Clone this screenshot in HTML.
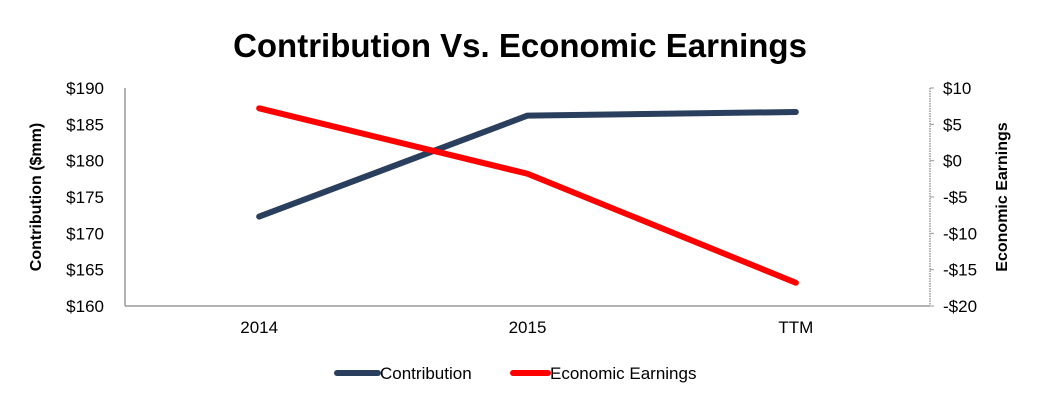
<!DOCTYPE html>
<html><head><meta charset="utf-8"><style>
body{margin:0;background:#fff;font-family:"Liberation Sans",sans-serif}
svg text{font-family:"Liberation Sans",sans-serif}
</style></head><body>
<svg width="1041" height="405">
<text x="520" y="57" text-anchor="middle" font-size="33" font-weight="bold">Contribution Vs. Economic Earnings</text>
<g id="g"></g>
</svg>
<script>
const categories=["2014","2015","TTM"];
const contribution=[172.3,186.2,186.7];
const economicEarnings=[7.2,-1.8,-16.8];
const leftTicks=[160,165,170,175,180,185,190];
const rightTicks=[-20,-15,-10,-5,0,5,10];
const NS="http://www.w3.org/2000/svg";
const g=document.getElementById('g');
const L=125,R=930,T=88,B=306;
const xS=i=>L+(R-L)/categories.length*(i+0.5);
const yL=v=>B-(v-160)/30*(B-T);
const yR=v=>B-(v+20)/30*(B-T);
function mk(t,a,txt){const e=document.createElementNS(NS,t);for(const k in a)e.setAttribute(k,a[k]);if(txt!==undefined)e.textContent=txt;g.appendChild(e);return e;}
let e;
e=mk('line',{x1:L,y1:T,x2:L,y2:B,stroke:'#999','stroke-width':1.5});


e=mk('line',{x1:L,y1:B,x2:R,y2:B,stroke:'#999','stroke-width':1.5});


e=mk('line',{x1:R,y1:T,x2:R,y2:B,stroke:'#999','stroke-width':1.5,'stroke-dasharray':'1.5,1'});


leftTicks.forEach(v=>{e=mk('text',{x:104,y:yL(v)+6,'text-anchor':'end','font-size':17},'$'+v);

});
rightTicks.forEach(v=>{mk('line',{x1:R,y1:yR(v),x2:R+4,y2:yR(v),stroke:'#999','stroke-width':1});
e=mk('text',{x:943,y:yR(v)+6,'font-size':17},(v<0?'-$'+(-v):'$'+v));

});
categories.forEach((c,i)=>{e=mk('text',{x:xS(i),y:333,'text-anchor':'middle','font-size':17},c);

});
e=mk('text',{transform:'translate(41,197) rotate(-90)','text-anchor':'middle','font-size':16,'font-weight':'bold'},'Contribution ($mm)');


e=mk('text',{transform:'translate(1007,197) rotate(-90)','text-anchor':'middle','font-size':16,'font-weight':'bold'},'Economic Earnings');


e=mk('polyline',{points:contribution.map((v,i)=>xS(i)+','+yL(v)).join(' '),fill:'none',stroke:'#2a3f5e','stroke-width':6,'stroke-linecap':'round','stroke-linejoin':'round'});


e=mk('polyline',{points:economicEarnings.map((v,i)=>xS(i)+','+yR(v)).join(' '),fill:'none',stroke:'#ff0000','stroke-width':6,'stroke-linecap':'round','stroke-linejoin':'round'});


e=mk('line',{x1:337,y1:373,x2:378,y2:373,stroke:'#2a3f5e','stroke-width':6,'stroke-linecap':'round'});


e=mk('text',{x:380,y:379,'font-size':17},'Contribution');


e=mk('line',{x1:513,y1:373,x2:548,y2:373,stroke:'#ff0000','stroke-width':6,'stroke-linecap':'round'});


e=mk('text',{x:550,y:379,'font-size':17},'Economic Earnings');


</script>
</body></html>
